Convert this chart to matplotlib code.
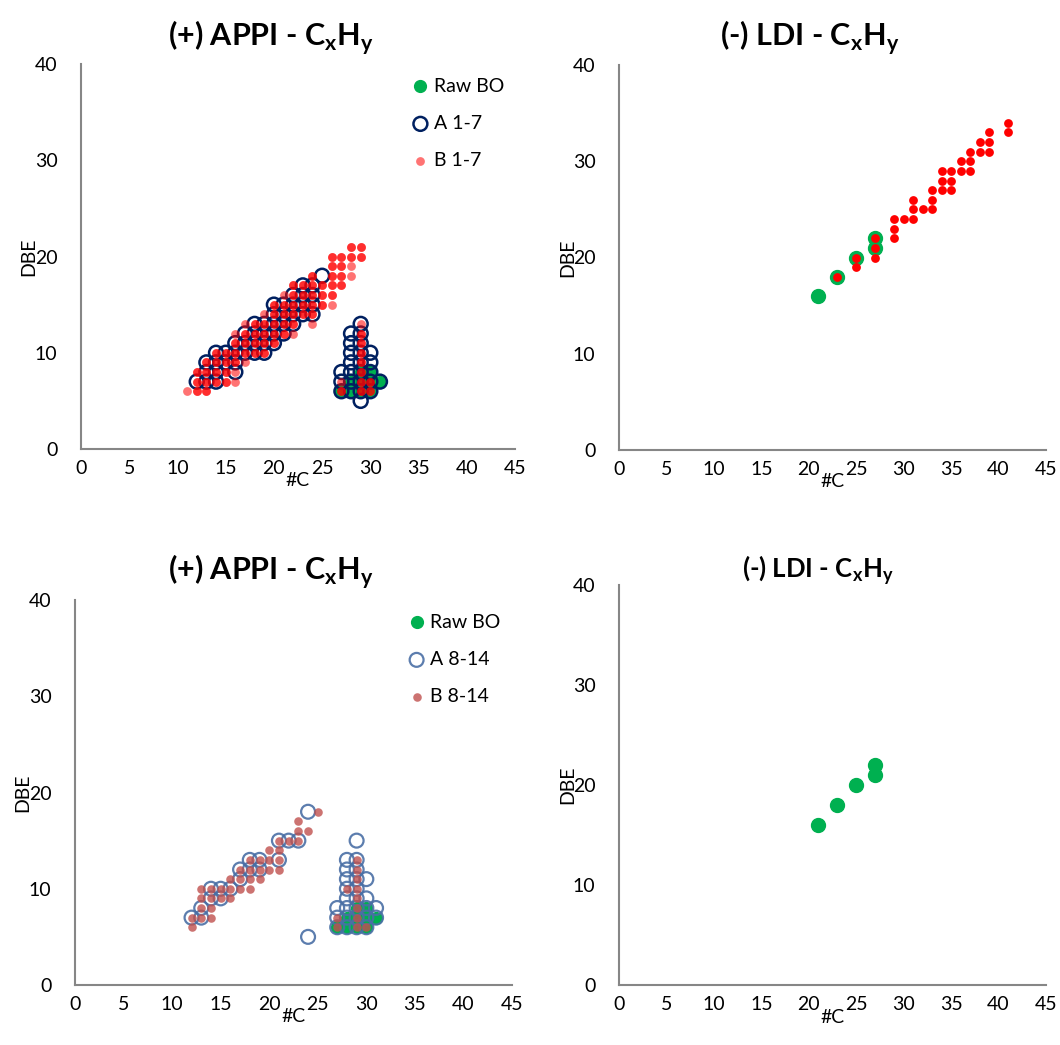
import numpy as np
import matplotlib
matplotlib.use("Agg")
import matplotlib.pyplot as plt

plt.rcParams['font.family'] = ['Lato', 'DejaVu Sans']
plt.rcParams['mathtext.fontset'] = 'custom'
plt.rcParams['mathtext.rm'] = 'Lato'
plt.rcParams['mathtext.bf'] = 'Lato:bold'

# ---- datos (C, DBE) ----
# Raw BO, APPI
raw_appi_c = [27, 28, 28, 29, 29, 29, 30, 30, 30, 31]
raw_appi_dbe = [6, 6, 7, 6, 7, 8, 6, 7, 8, 7]

# A 1-7 (circulos)
a17_c = [12, 13, 14, 13, 14, 16, 13, 14, 15, 16,
         14, 15, 16, 17, 18, 19, 16, 17, 18, 19, 20,
         17, 18, 19, 20, 21, 18, 19, 20, 21, 22,
         20, 21, 22, 23, 24, 20, 21, 22, 23, 24,
         22, 23, 24, 23, 24, 25,
         27, 27, 27, 28, 28, 28, 28, 28, 28, 28,
         29, 29, 29, 29, 29, 29, 29, 29, 29,
         30, 30, 30, 30, 30, 31]
a17_dbe = [7, 7, 7, 8, 8, 8, 9, 9, 9, 9,
           10, 10, 10, 10, 10, 10, 11, 11, 11, 11, 11,
           12, 12, 12, 12, 12, 13, 13, 13, 13, 13,
           14, 14, 14, 14, 14, 15, 15, 15, 15, 15,
           16, 16, 16, 17, 17, 18,
           6, 7, 8, 6, 7, 8, 9, 10, 11, 12,
           5, 6, 7, 8, 9, 10, 11, 12, 13,
           6, 7, 8, 9, 10, 7]

# B 1-7 (puntos rojos); n = 1 claro, 2 fuerte
b17_c = [11, 12, 13, 12, 13, 14, 15, 16, 12, 13, 14, 15, 16,
         13, 14, 15, 16, 17, 14, 15, 16, 17, 18, 19,
         16, 17, 18, 19, 20, 16, 17, 18, 19, 20, 21, 22,
         17, 18, 19, 20, 21, 22, 24, 19, 20, 21, 22, 23, 24,
         20, 21, 22, 23, 24, 25, 26, 21, 22, 23, 24, 25, 26,
         22, 23, 24, 25, 26, 27, 24, 26, 27, 28, 26, 27, 28,
         26, 27, 28, 29, 28, 29,
         27, 27, 29, 29, 29, 29, 29, 29, 29, 29, 30, 30]
b17_dbe = [6, 6, 6, 7, 7, 7, 7, 7, 8, 8, 8, 8, 8,
           9, 9, 9, 9, 9, 10, 10, 10, 10, 10, 10,
           11, 11, 11, 11, 11, 12, 12, 12, 12, 12, 12, 12,
           13, 13, 13, 13, 13, 13, 13, 14, 14, 14, 14, 14, 14,
           15, 15, 15, 15, 15, 15, 15, 16, 16, 16, 16, 16, 16,
           17, 17, 17, 17, 17, 17, 18, 18, 18, 18, 19, 19, 19,
           20, 20, 20, 20, 21, 21,
           6, 7, 6, 7, 8, 9, 10, 11, 12, 13, 6, 7]
b17_n = [1, 2, 2, 2, 2, 2, 2, 1, 2, 2, 2, 2, 1,
         2, 2, 2, 2, 1, 2, 2, 2, 2, 2, 2,
         2, 2, 2, 2, 2, 1, 2, 2, 2, 2, 2, 1,
         1, 2, 2, 2, 2, 2, 1, 1, 2, 2, 2, 2, 2,
         2, 2, 2, 2, 2, 2, 1, 1, 2, 2, 2, 2, 2,
         2, 2, 2, 2, 2, 2, 2, 2, 2, 1, 2, 2, 1,
         2, 2, 2, 2, 2, 2,
         2, 1, 2, 2, 2, 2, 2, 2, 2, 1, 2, 2]

# A 8-14
a814_c = [24, 21, 22, 23, 18, 19, 21, 17, 18, 19, 17, 14, 15, 16, 14, 15, 13, 12, 13, 24,
          27, 27, 27, 28, 28, 28, 28, 28, 28, 28, 28,
          29, 29, 29, 29, 29, 29, 29, 29, 29, 30, 30, 30, 30, 30, 31, 31]
a814_dbe = [18, 15, 15, 15, 13, 13, 13, 12, 12, 12, 11, 10, 10, 10, 9, 9, 8, 7, 7, 5,
            6, 7, 8, 6, 7, 8, 9, 10, 11, 12, 13,
            6, 7, 8, 9, 10, 11, 12, 13, 15, 6, 7, 8, 9, 11, 7, 8]

# B 8-14
b814_c = [25, 23, 23, 24, 21, 22, 23, 20, 21, 18, 19, 20, 21, 17, 18, 19, 20, 21,
          16, 17, 18, 19, 13, 14, 15, 16, 17, 18, 13, 14, 15, 16, 13, 14, 12, 13, 14, 12,
          29, 29, 29, 29, 29, 29, 29, 29, 28, 27, 27, 30]
b814_dbe = [18, 17, 16, 16, 15, 15, 15, 14, 14, 13, 13, 13, 13, 12, 12, 12, 12, 12,
            11, 11, 11, 11, 10, 10, 10, 10, 10, 10, 9, 9, 9, 9, 8, 8, 7, 7, 7, 6,
            6, 7, 8, 9, 10, 11, 12, 13, 10, 7, 6, 6]

# LDI
raw_ldi_c = [21, 23, 25, 27, 27]
raw_ldi_dbe = [16, 18, 20, 21, 22]
ldi_c = [41, 41, 39, 39, 39, 38, 38, 37, 37, 37, 36, 36, 35, 35, 35, 34, 34, 34,
         33, 33, 33, 32, 31, 31, 31, 30, 29, 29, 29, 27, 27, 27, 25, 25, 23]
ldi_dbe = [34, 33, 33, 32, 31, 32, 31, 31, 30, 29, 30, 29, 29, 28, 27, 29, 28, 27,
           27, 26, 25, 25, 26, 25, 24, 24, 24, 23, 22, 22, 21, 20, 20, 19, 18]

verde = '#00B050'
azul = '#002060'
rojo = '#FF0000'
azul2 = '#4A6FA5'
rojo2 = '#C0504D'
gris = '#868686'

fig = plt.figure(figsize=(10.6, 10.45), dpi=100)
W, H = 1060.0, 1045.0


def ejes(x0, x1, ytop, ybot):
    ax = fig.add_axes([x0 / W, 1 - ybot / H, (x1 - x0) / W, (ybot - ytop) / H])
    ax.set_xlim(0, 45)
    ax.set_ylim(0, 40)
    ax.set_xticks(range(0, 50, 5))
    ax.set_yticks(range(0, 50, 10))
    for s in ['top', 'right']:
        ax.spines[s].set_visible(False)
    for s in ['left', 'bottom']:
        ax.spines[s].set_color(gris)
        ax.spines[s].set_linewidth(1.5)
    ax.tick_params(length=0, labelsize=14)
    ax.tick_params(axis='x', pad=8)
    ax.tick_params(axis='y', pad=17)
    ax.set_xlabel('#C', fontsize=14, labelpad=0)
    ax.set_ylabel('DBE', fontsize=14, labelpad=0)
    ax.xaxis.set_label_coords(0.5, -0.06)
    ax.yaxis.set_label_coords(-0.1, 0.5)
    return ax


def leyenda(ax):
    ax.legend(loc='upper left', bbox_to_anchor=(0.735, 0.985), frameon=False, fontsize=14,
              handletextpad=0.05, labelspacing=1.05, borderaxespad=0, handlelength=1.3)


# Panel 1: (+) APPI, muestras 1-7
ax1 = ejes(81, 515, 64, 449)
ax1.scatter(raw_appi_c, raw_appi_dbe, s=72, color=verde, label='Raw BO', zorder=2)
ax1.scatter(a17_c, a17_dbe, s=100, facecolors='none', edgecolors=azul, linewidths=1.8,
            label='A 1-7', zorder=3)
b = np.array([b17_c, b17_dbe, b17_n])
ax1.scatter(b[0], b[1], s=40, color=rojo, alpha=0.55, linewidths=0, label='B 1-7', zorder=4)
fuerte = b[2] == 2
ax1.scatter(b[0][fuerte], b[1][fuerte], s=40, color=rojo, alpha=0.6, linewidths=0, zorder=4)
leyenda(ax1)

# Panel 2: (-) LDI
ax2 = ejes(619, 1046, 65, 450)
ax2.scatter(raw_ldi_c, raw_ldi_dbe, s=100, color=verde, zorder=2)
ax2.scatter(ldi_c, ldi_dbe, s=40, color=rojo, linewidths=0, zorder=3)

# Panel 3: (+) APPI, muestras 8-14
ax3 = ejes(75, 512, 600, 985)
ax3.scatter(raw_appi_c, raw_appi_dbe, s=72, color=verde, label='Raw BO', zorder=2)
ax3.scatter(a814_c, a814_dbe, s=100, facecolors='none', edgecolors=azul2, linewidths=1.6,
            alpha=0.9, label='A 8-14', zorder=3)
ax3.scatter(b814_c, b814_dbe, s=38, color=rojo2, alpha=0.8, linewidths=0, label='B 8-14', zorder=4)
leyenda(ax3)

# Panel 4: (-) LDI
ax4 = ejes(619, 1046, 585, 985)
ax4.scatter(raw_ldi_c, raw_ldi_dbe, s=100, color=verde, zorder=2)

# Titulos
fig.text(271 / W, 1 - 38 / H, r'(+) APPI - C$_{\mathbf{x}}$H$_{\mathbf{y}}$', fontsize=22,
         fontweight='bold', ha='center', va='center')
fig.text(810 / W, 1 - 38 / H, r'(-) LDI - C$_{\mathbf{x}}$H$_{\mathbf{y}}$', fontsize=22,
         fontweight='bold', ha='center', va='center')
fig.text(271 / W, 1 - 572 / H, r'(+) APPI - C$_{\mathbf{x}}$H$_{\mathbf{y}}$', fontsize=22,
         fontweight='bold', ha='center', va='center')
fig.text(818 / W, 1 - 570 / H, r'(-) LDI - C$_{\mathbf{x}}$H$_{\mathbf{y}}$', fontsize=18.5,
         fontweight='bold', ha='center', va='center')

fig.savefig('out.png', dpi=100)
